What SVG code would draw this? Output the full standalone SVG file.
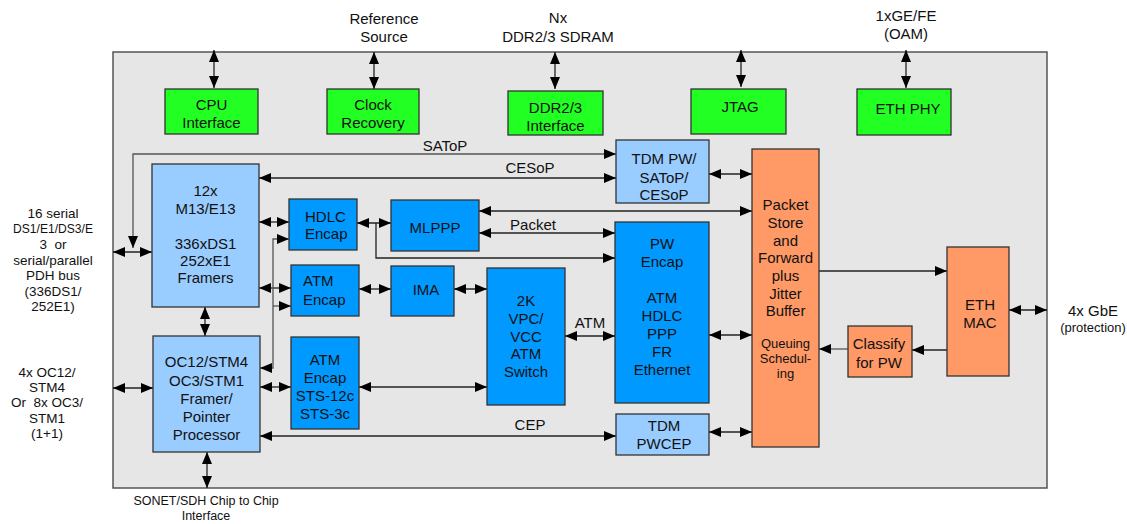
<svg xmlns="http://www.w3.org/2000/svg" width="1127" height="524" viewBox="0 0 1127 524">
<defs>
<marker id="ah" viewBox="0 0 12 10" refX="12" refY="5" markerWidth="12" markerHeight="10" markerUnits="userSpaceOnUse" orient="auto-start-reverse">
<path d="M0,0 L12,5 L0,10 z" fill="#000"/>
</marker>
</defs>
<style>
text{font-family:"Liberation Sans",Arial,sans-serif;font-size:15px;fill:#111;text-anchor:middle}
.sm{font-size:13px}
.bt{font-size:12.5px}
.lf{font-size:13.5px}
.n rect{stroke:#333;stroke-width:1.3}
.g rect{fill:#22ff22}
.lb rect{fill:#99ccff}
.b rect{fill:#0099ff}
.o rect{fill:#ff9966}
#connectors path{fill:none;stroke:#222;stroke-width:1.3}
#connectors .gr{stroke:#555}
.d{marker-start:url(#ah);marker-end:url(#ah)}
.e{marker-end:url(#ah)}
</style>
<rect x="113" y="52" width="934" height="436" fill="#e6e6e6" stroke="#555" stroke-width="1.5"/>

<g id="labels">
<text x="384" y="24">Reference</text>
<text x="384" y="42">Source</text>
<text x="558" y="23">Nx</text>
<text x="558" y="42">DDR2/3 SDRAM</text>
<text x="906" y="21">1xGE/FE</text>
<text x="906" y="39">(OAM)</text>
<text class="lf" x="53" y="218">16 serial</text>
<text class="lf" x="53" y="233" textLength="80" lengthAdjust="spacingAndGlyphs">DS1/E1/DS3/E</text>
<text class="lf" x="53" y="249" xml:space="preserve">3  or</text>
<text class="lf" x="53" y="264.5">serial/parallel</text>
<text class="lf" x="53" y="280">PDH bus</text>
<text class="lf" x="53" y="296">(336DS1/</text>
<text class="lf" x="53" y="311">252E1)</text>
<text class="lf" x="47" y="377">4x OC12/</text>
<text class="lf" x="47" y="392">STM4</text>
<text class="lf" x="47" y="407" xml:space="preserve">Or  8x OC3/</text>
<text class="lf" x="47" y="423">STM1</text>
<text class="lf" x="47" y="438">(1+1)</text>
<text x="1093" y="316">4x GbE</text>
<text class="sm" x="1093" y="332">(protection)</text>
<text class="bt" x="206" y="505">SONET/SDH Chip to Chip</text>
<text class="bt" x="206" y="520">Interface</text>
<text x="445" y="151">SAToP</text>
<text x="530" y="173">CESoP</text>
<text x="533" y="230">Packet</text>
<text x="590" y="328">ATM</text>
<text x="530" y="430">CEP</text>
</g>

<g id="connectors">
<path class="d" d="M214,50 V88"/>
<path class="d" d="M374,52 V89"/>
<path class="d" d="M555,52 V89"/>
<path class="d" d="M741,50 V87"/>
<path class="d" d="M906,50 V88"/>
<path class="d gr" d="M133,248 V154 H616"/>
<path class="d" d="M113,252 H152"/>
<path class="d" d="M259,178 H616"/>
<path class="d" d="M259,222 H289"/>
<path class="d" d="M259,288 H291"/>
<path class="d gr" d="M289,239 H273 V368 H260"/>
<path class="e gr" d="M273,306 H291"/>
<path class="d" d="M357,223 H391"/>
<path class="e" d="M376,223 V258 H615"/>
<path class="d" d="M479,211 H752"/>
<path class="d" d="M479,233 H615"/>
<path class="d" d="M359,289 H391"/>
<path class="d" d="M454,289 H487"/>
<path class="d" d="M565,336 H615"/>
<path class="d" d="M359,387 H487"/>
<path class="d" d="M260,387 H291"/>
<path class="d" d="M113,388 H153"/>
<path class="d" d="M205,307 V336"/>
<path class="d" d="M207,452 V488"/>
<path class="d" d="M260,436 H616"/>
<path class="d" d="M709,174 H752"/>
<path class="d" d="M709,335 H752"/>
<path class="d" d="M709,432 H752"/>
<path class="e" d="M819,271 H947"/>
<path class="e" d="M947,350 H912"/>
<path class="e gr" d="M848,349 H819"/>
<path class="d" d="M1009,310 H1047"/>
</g>

<g id="cpu" class="n g"><rect x="165" y="89" width="93" height="45"/><text x="211.5" y="110">CPU</text><text x="211.5" y="128">Interface</text></g>
<g id="clock" class="n g"><rect x="327" y="89" width="92" height="45"/><text x="373" y="110">Clock</text><text x="373" y="128">Recovery</text></g>
<g id="ddr" class="n g"><rect x="508" y="91" width="95" height="44"/><text x="555.5" y="113">DDR2/3</text><text x="555.5" y="131">Interface</text></g>
<g id="jtag" class="n g"><rect x="691" y="89" width="95" height="45"/><text x="740" y="112">JTAG</text></g>
<g id="ethphy" class="n g"><rect x="857" y="89" width="94" height="46"/><text x="908" y="114">ETH PHY</text></g>

<g id="framers" class="n lb"><rect x="152" y="164" width="107" height="143"/>
<text x="205.5" y="195.5">12x</text><text x="205.5" y="213.5">M13/E13</text><text x="205.5" y="248.5">336xDS1</text><text x="205.5" y="265.5">252xE1</text><text x="205.5" y="282.5">Framers</text></g>
<g id="oc12" class="n lb"><rect x="153" y="336" width="107" height="116"/>
<text x="206.5" y="367">OC12/STM4</text><text x="206.5" y="386">OC3/STM1</text><text x="206.5" y="404">Framer/</text><text x="206.5" y="422">Pointer</text><text x="206.5" y="440">Processor</text></g>

<g id="hdlc" class="n b"><rect x="289" y="199" width="68" height="51"/><text x="305" y="221.5" style="text-anchor:start">HDLC</text><text x="305" y="238.5" style="text-anchor:start">Encap</text></g>
<g id="mlppp" class="n b"><rect x="391" y="200" width="88" height="51"/><text x="435" y="232.5">MLPPP</text></g>
<g id="atmencap" class="n b"><rect x="291" y="265" width="68" height="51"/><text x="303" y="285.5" style="text-anchor:start">ATM</text><text x="303" y="304.5" style="text-anchor:start">Encap</text></g>
<g id="ima" class="n b"><rect x="391" y="266" width="63" height="50"/><text x="426" y="294.5">IMA</text></g>
<g id="atmsts" class="n b"><rect x="291" y="337" width="68" height="92"/>
<text x="325" y="364.5">ATM</text><text x="325" y="382.5">Encap</text><text x="325" y="400.5">STS-12c</text><text x="325" y="418.5">STS-3c</text></g>
<g id="switch" class="n b"><rect x="487" y="268" width="78" height="137"/>
<text x="526" y="305.5">2K</text><text x="526" y="323.5">VPC/</text><text x="526" y="341.5">VCC</text><text x="526" y="359">ATM</text><text x="526" y="377">Switch</text></g>

<g id="tdmpw" class="n lb"><rect x="616" y="140" width="93" height="63"/>
<text x="664" y="164">TDM PW/</text><text x="664" y="183">SAToP/</text><text x="664" y="200">CESoP</text></g>
<g id="pwencap" class="n b"><rect x="615" y="222" width="94" height="181"/>
<text x="662" y="249">PW</text><text x="662" y="267">Encap</text><text x="662" y="303">ATM</text><text x="662" y="321">HDLC</text><text x="662" y="339">PPP</text><text x="662" y="357">FR</text><text x="662" y="375">Ethernet</text></g>
<g id="tdmpwcep" class="n lb"><rect x="616" y="414" width="93" height="41"/><text x="664" y="430.5">TDM</text><text x="664" y="448.5">PWCEP</text></g>

<g id="packetstore" class="n o"><rect x="752" y="149" width="67" height="298"/>
<text x="785.5" y="210">Packet</text><text x="785.5" y="228">Store</text><text x="785.5" y="246">and</text><text x="785.5" y="263">Forward</text><text x="785.5" y="281">plus</text><text x="785.5" y="299">Jitter</text><text x="785.5" y="316">Buffer</text>
<text class="sm" x="785.5" y="348">Queuing</text><text class="sm" x="785.5" y="363">Schedul-</text><text class="sm" x="785.5" y="378">ing</text></g>
<g id="classify" class="n o"><rect x="848" y="326" width="64" height="51"/><text x="879" y="348.5">Classify</text><text x="879" y="367.5">for PW</text></g>
<g id="ethmac" class="n o"><rect x="947" y="247" width="62" height="129"/><text x="980" y="309.5">ETH</text><text x="980" y="327.5">MAC</text></g>
</svg>
